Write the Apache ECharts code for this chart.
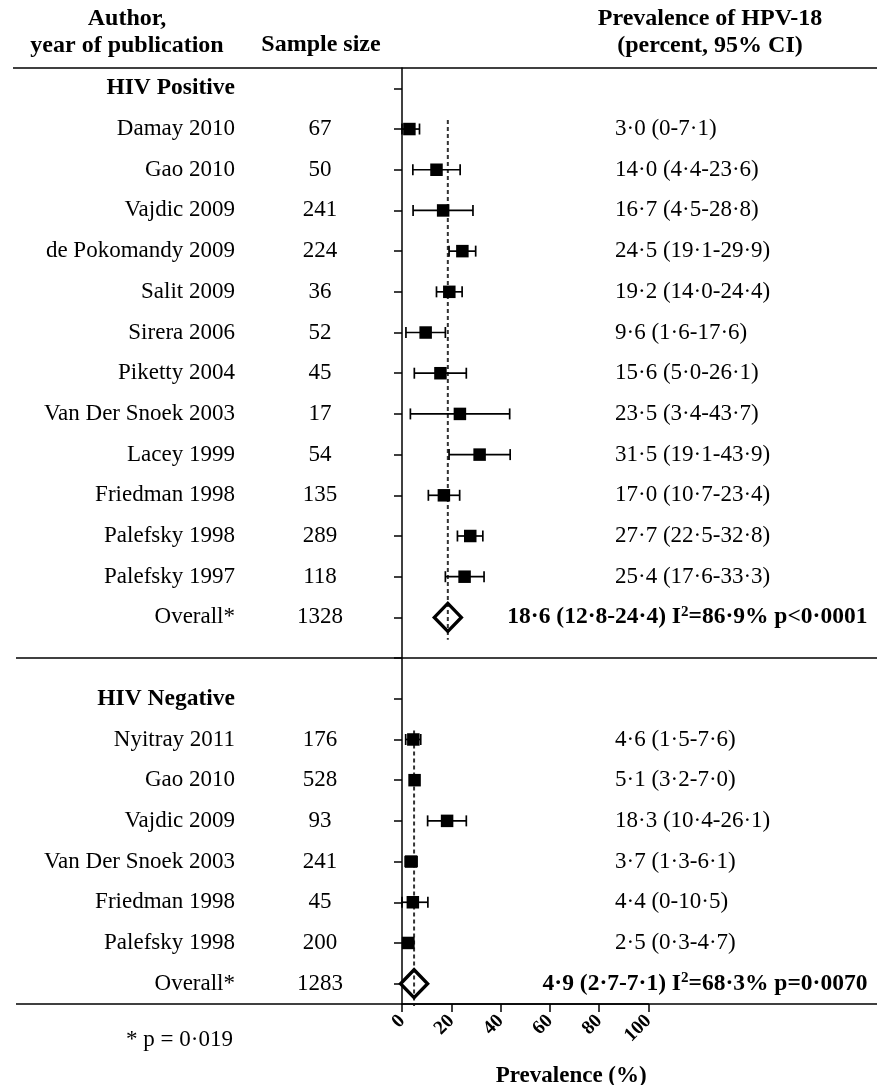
<!DOCTYPE html>
<html><head><meta charset="utf-8">
<script src="https://cdn.jsdelivr.net/npm/echarts@6/dist/echarts.min.js"></script>
<style>html,body{margin:0;padding:0;background:#fff}#c{width:877px;height:1085px}</style>
</head><body><div id="c"></div>
<script>
// ---------- DATA ----------
const groupLabels = ["HIV Positive", "HIV Negative"];

const authorsPos = ["Damay 2010","Gao 2010","Vajdic 2009","de Pokomandy 2009","Salit 2009","Sirera 2006","Piketty 2004","Van Der Snoek 2003","Lacey 1999","Friedman 1998","Palefsky 1998","Palefsky 1997"];
const nPos   = [67, 50, 241, 224, 36, 52, 45, 17, 54, 135, 289, 118];
const estPos = [3.0, 14.0, 16.7, 24.5, 19.2, 9.6, 15.6, 23.5, 31.5, 17.0, 27.7, 25.4];
const loPos  = [0, 4.4, 4.5, 19.1, 14.0, 1.6, 5.0, 3.4, 19.1, 10.7, 22.5, 17.6];
const hiPos  = [7.1, 23.6, 28.8, 29.9, 24.4, 17.6, 26.1, 43.7, 43.9, 23.4, 32.8, 33.3];
const overallPos = [18.6, 12.8, 24.4];   // estimate, lo, hi
const overallPosN = 1328;
const overallPosI2 = 86.9;
const overallPosP = "p<0·0001";

const authorsNeg = ["Nyitray 2011","Gao 2010","Vajdic 2009","Van Der Snoek 2003","Friedman 1998","Palefsky 1998"];
const nNeg   = [176, 528, 93, 241, 45, 200];
const estNeg = [4.6, 5.1, 18.3, 3.7, 4.4, 2.5];
const loNeg  = [1.5, 3.2, 10.4, 1.3, 0, 0.3];
const hiNeg  = [7.6, 7.0, 26.1, 6.1, 10.5, 4.7];
const overallNeg = [4.9, 2.7, 7.1];
const overallNegN = 1283;
const overallNegI2 = 68.3;
const overallNegP = "p=0·0070";

const overallLabel = "Overall*";
const footnote = "* p = 0·019";
const xTicks = [0, 20, 40, 60, 80, 100];

// ---------- BUILD ROWS ----------
const fmt = v => v === 0 ? "0" : v.toFixed(1).replace(".", "·");
const rows = [];
function addGroup(label, authors, ns, est, lo, hi, ov, ovN, i2, p) {
  rows.push({kind: "group", label: label});
  const first = rows.length;
  authors.forEach((a, i) => rows.push({kind: "study", label: a, n: ns[i], est: est[i], lo: lo[i], hi: hi[i]}));
  rows.push({kind: "overall", label: overallLabel, n: ovN, est: ov[0], lo: ov[1], hi: ov[2], i2: i2, p: p, first: first});
}
addGroup(groupLabels[0], authorsPos, nPos, estPos, loPos, hiPos, overallPos, overallPosN, overallPosI2, overallPosP);
rows.push({kind: "blank", label: ""});
const sepIndex = rows.length - 1;
addGroup(groupLabels[1], authorsNeg, nNeg, estNeg, loNeg, hiNeg, overallNeg, overallNegN, overallNegI2, overallNegP);

const cats = rows.map((r, i) => String(i));
const studyBars = [], studyPts = [], diamonds = [], refLines = [];
rows.forEach((r, i) => {
  if (r.kind === "study") { studyBars.push([r.lo, r.hi, i]); studyPts.push([r.est, i]); }
  if (r.kind === "overall") { diamonds.push([r.est, i]); refLines.push([r.est, r.first, i]); }
});

// ---------- CHART ----------
const FONT = "'Liberation Serif','Times New Roman',serif";
const chart = echarts.init(document.getElementById("c"), null, {renderer: "canvas"});

const baseCat = {
  type: "category", data: cats, inverse: true, boundaryGap: true,
  axisLine: {show: false}, axisTick: {show: false}, splitLine: {show: false}
};

const option = {
  backgroundColor: "#fff",
  animation: false,
  textStyle: {fontFamily: FONT},
  title: [
    {text: "Author,\nyear of publication", left: 122, top: 0, textAlign: "center",
     textStyle: {fontFamily: FONT, fontSize: 24, fontWeight: "bold", lineHeight: 27, color: "#000"}},
    {text: "Sample size", left: 316, top: 28, textAlign: "center",
     textStyle: {fontFamily: FONT, fontSize: 24, fontWeight: "bold", color: "#000"}},
    {text: "Prevalence of HPV-18\n(percent, 95% CI)", left: 705, top: 0, textAlign: "center",
     textStyle: {fontFamily: FONT, fontSize: 24, fontWeight: "bold", lineHeight: 27, color: "#000"}},
    {text: footnote, left: 121, top: 1023,
     textStyle: {fontFamily: FONT, fontSize: 23, fontWeight: "normal", color: "#000"}}
  ],
  grid: {left: 402, top: 68, width: 246.4, height: 936, containLabel: false, outerBoundsMode: "none"},
  xAxis: {
    type: "value", min: xTicks[0], max: xTicks[xTicks.length - 1], interval: 20,
    axisLine: {show: true, lineStyle: {color: "#000", width: 1.5}},
    axisTick: {show: true, length: 8, lineStyle: {color: "#000", width: 1.5}},
    splitLine: {show: false},
    axisLabel: {rotate: 45, margin: 14, fontFamily: FONT, fontSize: 19.5, fontWeight: "bold", color: "#000"},
    name: "Prevalence (%)", nameLocation: "middle", nameGap: 61,
    nameTextStyle: {fontFamily: FONT, fontSize: 23, fontWeight: "bold", color: "#000", padding: [0, 0, 0, 92]}
  },
  yAxis: [
    Object.assign({}, baseCat, {
      position: "left",
      axisLine: {show: true, lineStyle: {color: "#000", width: 1.5}},
      axisTick: {show: true, alignWithLabel: true, length: 8, lineStyle: {color: "#000", width: 1.5}},
      axisLabel: {
        interval: 0, margin: 167, align: "right", fontFamily: FONT, fontSize: 23, color: "#000",
        formatter: (v, i) => rows[i].kind === "group" ? "{g|" + rows[i].label + "}" : rows[i].label,
        rich: {g: {fontFamily: FONT, fontSize: 23.5, fontWeight: "bold", color: "#000"}}
      }
    }),
    Object.assign({}, baseCat, {
      position: "left",
      axisLabel: {
        interval: 0, margin: 82, align: "center", fontFamily: FONT, fontSize: 23, color: "#000",
        formatter: (v, i) => rows[i].n != null ? String(rows[i].n) : ""
      }
    }),
    Object.assign({}, baseCat, {
      position: "left",
      axisLabel: {
        interval: 0, margin: -213, align: "left", fontFamily: FONT, fontSize: 23, color: "#000",
        formatter: (v, i) => rows[i].kind === "study" ? fmt(rows[i].est) + " (" + fmt(rows[i].lo) + "-" + fmt(rows[i].hi) + ")" : ""
      }
    }),
    Object.assign({}, baseCat, {
      position: "right",
      axisLabel: {
        interval: 0, margin: 219, align: "right", fontFamily: FONT, fontSize: 23.5, color: "#000",
        formatter: (v, i) => {
          const r = rows[i];
          if (r.kind !== "overall") return "";
          return "{b|" + fmt(r.est) + " (" + fmt(r.lo) + "-" + fmt(r.hi) + ") I}{s|2}{b|=" + fmt(r.i2) + "% " + r.p + "}";
        },
        rich: {
          b: {fontFamily: FONT, fontSize: 23.5, fontWeight: "bold", color: "#000", lineHeight: 26},
          s: {fontFamily: FONT, fontSize: 15, fontWeight: "bold", color: "#000", lineHeight: 15, verticalAlign: "top"}
        }
      }
    })
  ],
  series: [
    {
      type: "custom", name: "pooled", clip: false, z: 1,
      data: refLines, encode: {x: 0, y: [1, 2]},
      renderItem: (params, api) => {
        const x = api.value(0);
        const band = api.size([0, 1])[1];
        const p1 = api.coord([x, api.value(1)]);
        const p2 = api.coord([x, api.value(2)]);
        return {type: "line", shape: {x1: p1[0], y1: p1[1] - band * 0.22, x2: p2[0], y2: p2[1] + band * 0.55},
                style: {stroke: "#333", lineWidth: 2, lineDash: [4, 3]}};
      }
    },
    {
      type: "custom", name: "ci", z: 2,
      data: studyBars, encode: {x: [0, 1], y: 2},
      renderItem: (params, api) => {
        const a = api.coord([api.value(0), api.value(2)]);
        const b = api.coord([api.value(1), api.value(2)]);
        const h = 5.5, st = {stroke: "#000", lineWidth: 1.7};
        return {type: "group", children: [
          {type: "line", shape: {x1: a[0], y1: a[1], x2: b[0], y2: b[1]}, style: st},
          {type: "line", shape: {x1: a[0], y1: a[1] - h, x2: a[0], y2: a[1] + h}, style: st},
          {type: "line", shape: {x1: b[0], y1: b[1] - h, x2: b[0], y2: b[1] + h}, style: st}
        ]};
      }
    },
    {
      type: "scatter", name: "study", z: 3, data: studyPts,
      symbol: "rect", symbolSize: 12.5, itemStyle: {color: "#000", opacity: 1}
    },
    {
      type: "scatter", name: "overall", z: 4, data: diamonds,
      symbol: "diamond", symbolSize: [27, 28],
      itemStyle: {color: "rgba(0,0,0,0)", borderColor: "#000", borderWidth: 3.4, opacity: 1}
    }
  ]
};
chart.setOption(option);

// full-width horizontal rules, positioned from the category axis
const y0 = chart.convertToPixel({yAxisIndex: 0}, cats[0]);
const y1 = chart.convertToPixel({yAxisIndex: 0}, cats[1]);
const band = y1 - y0;
const yTop = y0 - band / 2;
const yBot = chart.convertToPixel({yAxisIndex: 0}, cats[cats.length - 1]) + band / 2;
const ySep = chart.convertToPixel({yAxisIndex: 0}, cats[sepIndex]);
const rule = (x1, y, x2) => ({type: "line", shape: {x1: x1, y1: y, x2: x2, y2: y}, style: {stroke: "#000", lineWidth: 1.5}, z: 10});
chart.setOption({graphic: [rule(13, yTop, 877), rule(16, ySep, 877), rule(16, yBot, 877)]});
</script>
</body></html>
